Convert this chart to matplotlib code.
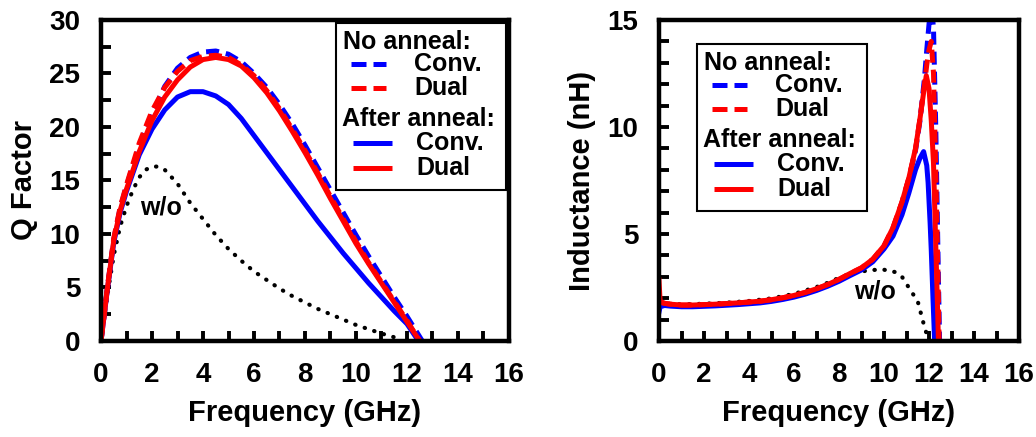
import matplotlib
matplotlib.use("Agg")
import matplotlib.pyplot as plt
from matplotlib.lines import Line2D
from matplotlib.patches import Rectangle
from matplotlib.transforms import ScaledTranslation

plt.rcParams['font.family'] = ['Liberation Sans', 'DejaVu Sans']
plt.rcParams['font.weight'] = 'bold'

# ---------------- Q factor vs frequency ----------------
q_freq = [0, 0.25, 0.5, 0.75, 1, 1.5, 2, 2.5, 3, 3.5, 4, 4.5, 5, 5.5, 6, 6.5,
          7, 7.5, 8, 8.5, 9, 9.5, 10, 10.5, 11, 11.5, 12]
q_conv_no = [0, 5.0, 9.5, 12.4, 14.5, 18.2, 21.2, 23.8, 25.5, 26.5, 27.0, 27.1,
             26.8, 26.1, 25.0, 23.7, 22.1, 20.3, 18.3, 16.2, 14.1, 12.0, 9.9,
             7.9, 6.0, 4.1, 2.3]
q_dual_no = [0, 5.0, 9.6, 12.5, 14.6, 18.5, 21.5, 23.7, 25.2, 26.2, 26.6, 26.7,
             26.5, 25.8, 24.8, 23.4, 21.7, 19.8, 17.8, 15.7, 13.5, 11.4, 9.3,
             7.3, 5.5, 3.7, 1.9]
q_conv_ann = [0, 4.8, 9.2, 12.0, 14.0, 17.4, 19.8, 21.6, 22.8, 23.3, 23.3, 22.9,
              22.1, 20.8, 19.2, 17.6, 16.0, 14.4, 12.8, 11.2, 9.7, 8.2, 6.8,
              5.4, 4.1, 2.8, 1.6]
q_dual_ann = [0, 4.9, 9.4, 12.2, 14.2, 17.7, 20.6, 22.8, 24.4, 25.6, 26.3, 26.5,
              26.3, 25.7, 24.6, 23.2, 21.5, 19.6, 17.6, 15.5, 13.3, 11.2, 9.1,
              7.2, 5.4, 3.6, 1.8]
q_end_freq = {'conv_no': 12.6, 'dual_no': 12.5, 'conv_ann': 12.45, 'dual_ann': 12.5}

q_wo_freq = [0, 0.25, 0.5, 0.75, 1, 1.25, 1.5, 1.75, 2, 2.25, 2.5, 3, 3.5, 4,
             4.5, 5, 5.5, 6, 6.5, 7, 7.5, 8, 8.5, 9, 9.5, 10, 10.5, 11, 11.5, 11.8]
q_wo = [0, 4.3, 8.0, 10.7, 12.6, 14.1, 15.3, 16.0, 16.3, 16.3, 16.0, 14.7, 12.9,
        11.4, 9.9, 8.6, 7.5, 6.5, 5.7, 4.9, 4.2, 3.6, 3.0, 2.5, 2.0, 1.5, 1.1,
        0.7, 0.35, 0.1]

# ---------------- Inductance vs frequency ----------------
l_freq = [0, 0.05, 0.25, 0.5, 1, 1.5, 2, 2.5, 3, 3.5, 4, 4.5, 5, 5.5, 6, 6.5, 7,
          7.5, 8, 8.5, 9, 9.5, 10, 10.4, 10.8, 11.1, 11.4, 11.6]
l_dual_ann = [2.85, 1.85, 1.76, 1.72, 1.68, 1.68, 1.70, 1.72, 1.75, 1.78, 1.82,
              1.86, 1.93, 2.02, 2.13, 2.27, 2.44, 2.64, 2.88, 3.16, 3.42, 3.82,
              4.45, 5.3, 6.5, 7.6, 9.0, 10.4]
l_dual_ann_res_f = [11.8, 11.88, 12.0, 12.1, 12.2, 12.3, 12.42]
l_dual_ann_res = [11.9, 12.4, 11.8, 10.3, 8.3, 4.5, 0]

l_conv_ann = [1.35, 1.6, 1.66, 1.63, 1.60, 1.60, 1.62, 1.64, 1.67, 1.70, 1.74,
              1.78, 1.85, 1.94, 2.05, 2.19, 2.36, 2.56, 2.79, 3.06, 3.32, 3.70,
              4.30, 4.9, 5.9, 6.9, 8.0, 8.55]
l_conv_ann_res_f = [11.76, 11.9, 11.96, 12.05, 12.1, 12.18, 12.25]
l_conv_ann_res = [8.85, 8.2, 7.4, 5.5, 4.25, 1.9, 0]

l_conv_no = [1.75, 1.7, 1.72, 1.68, 1.64, 1.64, 1.66, 1.68, 1.71, 1.74, 1.78,
             1.82, 1.89, 1.98, 2.09, 2.23, 2.40, 2.60, 2.84, 3.12, 3.38, 3.78,
             4.40, 5.25, 6.45, 7.55, 8.9, 10.3]
l_conv_no_res_f = [11.8, 11.9, 12.0, 12.1, 12.2, 12.3, 12.4, 12.47]
l_conv_no_res = [12.3, 13.6, 14.8, 15.8, 14.6, 10.0, 4.0, 0]

l_dual_no = [1.8, 1.8, 1.76, 1.72, 1.68, 1.68, 1.70, 1.72, 1.75, 1.78, 1.82,
             1.86, 1.93, 2.02, 2.13, 2.27, 2.44, 2.64, 2.88, 3.16, 3.42, 3.82,
             4.45, 5.3, 6.5, 7.6, 8.95, 10.4]
l_dual_no_res_f = [11.8, 11.9, 12.0, 12.1, 12.2, 12.3, 12.4, 12.45]
l_dual_no_res = [12.0, 12.9, 13.6, 14.0, 12.5, 8.0, 3.0, 0]

l_wo_freq = [0, 0.5, 1, 2, 3, 4, 5, 6, 7, 7.5, 8, 8.6, 9, 9.5, 10, 10.5, 10.8,
             11.1, 11.5, 11.8, 11.95]
l_wo = [1.72, 1.74, 1.71, 1.74, 1.79, 1.87, 1.99, 2.2, 2.52, 2.72, 2.95, 3.16,
        3.25, 3.32, 3.33, 3.22, 3.0, 2.5, 1.85, 0.65, 0.15]

freq_ticks = [0, 2, 4, 6, 8, 10, 12, 14, 16]
q_ticks = [0, 5, 10, 15, 20, 25, 30]
l_ticks = [0, 5, 10, 15]

BLUE = '#0000ff'
RED = '#ff0000'
LW = 3.6
DASH = (2.6, 1.4)
DOTS = (0, (0.1, 2.3))

fig = plt.figure(figsize=(10.36, 4.37), dpi=100)
ax1 = fig.add_axes([0.0975, 0.2197, 0.3938, 0.7346])
ax2 = fig.add_axes([0.6361, 0.2197, 0.3475, 0.7346])


def style_axes(ax, yticks, yminor, ylabel):
    ax.set_xlim(0, 16)
    ax.set_ylim(yticks[0], yticks[-1])
    ax.set_xticks(freq_ticks)
    ax.set_xticks([v for v in range(0, 17) if v % 2], minor=True)
    ax.set_yticks(yticks)
    ax.set_yticks(yminor, minor=True)
    for sp in ax.spines.values():
        sp.set_linewidth(3.2)
        sp.set_zorder(20)
    ax.tick_params(which='both', direction='in', length=7.5, width=2.8,
                   top=False, right=False, labelsize=20, pad=15)
    ax.set_xlabel('Frequency (GHz)', fontsize=21, fontweight='bold', labelpad=8)
    ax.set_ylabel(ylabel, fontsize=21, fontweight='bold', labelpad=8)
    for lab in ax.get_xticklabels() + ax.get_yticklabels():
        lab.set_fontweight('bold')


def draw_key(ax, ax_x, ax_y):
    trans = fig.dpi_scale_trans + ScaledTranslation(ax_x, ax_y, ax.transAxes)
    box = Rectangle((0, -1.67), 1.70, 1.67, transform=trans, facecolor='white',
                    edgecolor='black', linewidth=1.5, zorder=10, clip_on=False)
    ax.add_artist(box)
    rows = [
        ('No anneal:', None, None, 0.07, -0.19),
        ('Conv.', BLUE, '--', 0.78, -0.41),
        ('Dual', RED, '--', 0.78, -0.65),
        ('After anneal:', None, None, 0.06, -0.96),
        ('Conv.', BLUE, '-', 0.80, -1.20),
        ('Dual', RED, '-', 0.80, -1.45),
    ]
    for text, color, ls, tx, ty in rows:
        ax.text(tx, ty, text, transform=trans, fontsize=18, fontweight='bold',
                va='center', ha='left', zorder=11)
        if color is not None:
            x0, x1 = (0.15, 0.50) if ls == '--' else (0.17, 0.56)
            ln = Line2D([x0, x1], [ty, ty], transform=trans, color=color,
                        linewidth=LW, zorder=11, solid_capstyle='butt',
                        dash_capstyle='butt')
            if ls == '--':
                ln.set_dashes((3.0, 1.4))
            ax.add_artist(ln)


# Q factor panel
ax1.plot(q_wo_freq, q_wo, color='black', linewidth=3.0,
         linestyle=DOTS, dash_capstyle='round', zorder=2)
ax1.plot(q_freq + [q_end_freq['conv_no']], q_conv_no + [0], color=BLUE,
         linewidth=LW, dashes=DASH, zorder=3)
ax1.plot(q_freq + [q_end_freq['conv_ann']], q_conv_ann + [0], color=BLUE,
         linewidth=LW, zorder=4)
ax1.plot(q_freq + [q_end_freq['dual_no']], q_dual_no + [0], color=RED,
         linewidth=LW, dashes=DASH, zorder=5)
ax1.plot(q_freq + [q_end_freq['dual_ann']], q_dual_ann + [0], color=RED,
         linewidth=LW, zorder=6)
ax1.text(2.36, 12.5, 'w/o', fontsize=18, fontweight='bold', ha='center',
         va='center')
style_axes(ax1, q_ticks, [2.5, 7.5, 12.5, 17.5, 22.5, 27.5], 'Q Factor')
draw_key(ax1, 0.576, 0.991)

# Inductance panel
ax2.plot(l_wo_freq, l_wo, color='black', linewidth=3.0,
         linestyle=DOTS, dash_capstyle='round', zorder=2)
ax2.plot(l_freq + l_conv_no_res_f, l_conv_no + l_conv_no_res, color=BLUE,
         linewidth=LW, dashes=DASH, zorder=3)
ax2.plot(l_freq + l_conv_ann_res_f, l_conv_ann + l_conv_ann_res, color=BLUE,
         linewidth=LW, zorder=4)
ax2.plot(l_freq + l_dual_no_res_f, l_dual_no + l_dual_no_res, color=RED,
         linewidth=LW, dashes=DASH, zorder=5)
ax2.plot(l_freq + l_dual_ann_res_f, l_dual_ann + l_dual_ann_res, color=RED,
         linewidth=LW, zorder=6)
ax2.text(9.59, 2.3, 'w/o', fontsize=18, fontweight='bold', ha='center',
         va='center')
style_axes(ax2, l_ticks, [v for v in range(1, 15) if v % 5], 'Inductance (nH)')
draw_key(ax2, 0.1056, 0.924)

fig.savefig('out.png', dpi=100)
